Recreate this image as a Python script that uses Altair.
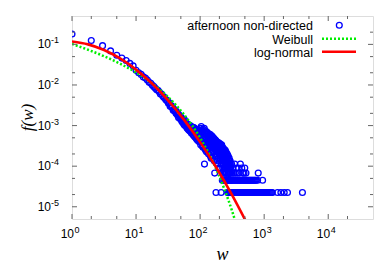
import altair as alt
import pandas as pd

TOTAL = 44400  # normalisation: one event -> f = 1/TOTAL

# ---- data ----
# w = 1..99, f(w)
w_low = list(range(1, 100))
f_low = [0.18, 0.125, 0.093, 0.069, 0.054, 0.046, 0.040, 0.034, 0.0295,
         0.0229, 0.0200, 0.0182, 0.0158, 0.0148, 0.0132, 0.0117, 0.0110, 0.0098, 0.0091,
         0.0083, 0.0076, 0.0074, 0.0068, 0.0060, 0.0060, 0.0054, 0.0050, 0.0049, 0.0044,
         0.0042, 0.0040, 0.00355, 0.00363, 0.0030, 0.00316, 0.00282, 0.00295, 0.0024, 0.00251,
         0.00229, 0.0024, 0.0020, 0.00219, 0.00186, 0.0020, 0.00158, 0.00182, 0.00151, 0.00166,
         0.00141, 0.00158, 0.00126, 0.00145, 0.00117, 0.00132, 0.00107, 0.00138, 0.0010, 0.00117,
         1.0e-3, 1.15e-3, 8.9e-4, 1.08e-3, 8.3e-4, 1.0e-3, 7.9e-4, 1.05e-3, 7.6e-4, 9.5e-4,
         7.2e-4, 9.8e-4, 8.2e-4, 6.6e-4, 9.2e-4, 7.2e-4, 8.6e-4, 6.0e-4, 9.0e-4, 6.8e-4,
         5.6e-4, 8.8e-4, 7.0e-4, 5.2e-4, 8.2e-4, 6.2e-4, 7.6e-4, 4.8e-4, 8.0e-4, 5.8e-4,
         4.5e-4, 7.6e-4, 6.2e-4, 4.2e-4, 8.0e-4, 5.4e-4, 7.0e-4, 4.0e-4, 7.8e-4, 5.2e-4]

# w = 100..299, counts
w_mid = list(range(100, 300))
counts_mid = [20, 38, 15, 28, 42, 17, 25, 34, 14, 31,
              27, 13, 36, 21, 16, 30, 38, 5, 24, 12,
              22, 33, 11, 27, 17, 31, 10, 20, 29, 14,
              30, 12, 24, 18, 28, 9, 21, 26, 15, 19,
              11, 25, 16, 27, 8, 22, 19, 13, 24, 7,
              20, 15, 25, 10, 22, 17, 7, 23, 13, 18,
              10, 21, 16, 22, 12, 18, 6, 20, 14, 3,
              17, 20, 11, 18, 8, 15, 19, 1, 10, 16,
              13, 18, 9, 16, 6, 17, 12, 14, 5, 15,
              11, 16, 7, 17, 10, 13, 4, 15, 9, 12,
              14, 8, 12, 16, 4, 10, 13, 6, 9, 15,
              7, 11, 14, 1, 9, 12, 5, 15, 8, 10,
              6, 12, 2, 9, 13, 4, 8, 11, 3, 7,
              10, 5, 12, 2, 8, 11, 4, 6, 9, 3,
              7, 10, 4, 2, 8, 5, 11, 3, 6, 9,
              2, 7, 4, 10, 5, 3, 8, 2, 6, 4,
              7, 3, 5, 2, 9, 4, 6, 2, 5, 8,
              1, 5, 3, 8, 2, 4, 6, 1, 3, 2,
              5, 2, 4, 1, 7, 3, 2, 5, 1, 6,
              2, 4, 1, 3, 6, 2, 1, 5, 2, 3]

# tail: weights seen once
tail1_w = [300, 311, 322, 334, 346, 359, 372, 385, 399, 414, 429, 444, 460, 477, 494,
           512, 531, 550, 570, 591, 612, 634, 657, 681, 706, 732, 758, 786, 814, 844,
           874, 906, 939, 973, 1008, 1045, 1083, 1122, 1163, 1205, 1249, 1294, 1341,
           1617, 1824, 2055, 2312, 3956]
# tail: weights seen twice
tail2_w = [305, 316, 328, 340, 352, 365, 378, 392, 406, 421, 436, 452, 469, 486, 503,
           522, 541, 560, 580, 601, 623, 646, 670, 694, 719, 745, 790, 945]
# tail: a few weights seen 3-5 times
extra_w = [310, 318, 326, 335, 347, 356, 368, 381, 395, 410, 425, 447, 462, 485, 498, 520, 808]
extra_c = [5, 3, 4, 3, 5, 3, 4, 3, 4, 3, 5, 4, 3, 3, 4, 3, 3]

# fitted curves
weib_w = [1, 1.778, 3.162, 5.623, 10, 17.78, 31.62, 56.23, 100, 177.8, 316.2, 398.1]
weib_f = [0.1023, 0.0738, 0.0512, 0.0335, 0.0203, 0.01096, 0.00505, 0.00186,
          5.0e-4, 8.57e-5, 7.8e-6, 2.4e-6]
logn_w = [1, 1.778, 3.162, 5.623, 10, 17.78, 31.62, 56.23, 100, 177.8, 316.2, 562.3]
logn_f = [0.1175, 0.100, 0.0726, 0.0451, 0.0239, 0.01084, 0.00419, 0.001384,
          3.91e-4, 9.42e-5, 1.94e-5, 3.42e-6]

# axis ticks
x_major = [1, 10, 100, 1000, 10000]
x_exp = ["0", "1", "2", "3", "4"]
x_minor = [2, 5, 20, 50, 200, 500, 2000, 5000, 20000]
y_major = [0.1, 0.01, 0.001, 0.0001, 0.00001]
y_exp = ["-1", "-2", "-3", "-4", "-5"]
y_minor = [0.2, 0.05, 0.02, 0.005, 0.002, 0.0005, 0.0002, 0.00005, 0.00002]

# ---- chart ----
W, H = 301, 203
BLUE, GREEN, RED, FRAME = "#0000ff", "#00ee00", "#ff0000", "#666666"
SANS, SERIF = "Liberation Sans", "Liberation Serif"
xs = alt.Scale(type="log", domain=[1, 50000], nice=False)
ys = alt.Scale(type="log", domain=[5e-6, 0.5], nice=False)

rows_w = w_low + w_mid + tail1_w + tail2_w + extra_w
rows_f = (f_low + [c / TOTAL for c in counts_mid] + [1 / TOTAL] * len(tail1_w)
          + [2 / TOTAL] * len(tail2_w) + [c / TOTAL for c in extra_c])
pts = pd.DataFrame({"w": rows_w, "f": rows_f})

X = alt.X("w:Q", scale=xs, axis=None)
Y = alt.Y("f:Q", scale=ys, axis=None)

points = alt.Chart(pts).mark_point(shape="circle", filled=False, size=34, strokeWidth=1.3,
                                   color=BLUE, opacity=1, clip=True).encode(x=X, y=Y)
weib = alt.Chart(pd.DataFrame({"w": weib_w, "f": weib_f})).mark_line(
    color=GREEN, strokeWidth=2.5, strokeDash=[2, 2], interpolate="monotone", clip=True
).encode(x=X, y=Y)
logn = alt.Chart(pd.DataFrame({"w": logn_w, "f": logn_f})).mark_line(
    color=RED, strokeWidth=2.6, interpolate="monotone", clip=True
).encode(x=X, y=Y)

def yticks(vals, length):
    d = pd.DataFrame({"v": vals})
    yy = alt.Y("v:Q", scale=ys, axis=None)
    a = alt.Chart(d).mark_rule(color=FRAME, strokeWidth=1).encode(y=yy, x=alt.value(0), x2=alt.value(length))
    b = alt.Chart(d).mark_rule(color=FRAME, strokeWidth=1).encode(y=yy, x=alt.value(W - length), x2=alt.value(W))
    return [a, b]

def xticks(vals, length):
    d = pd.DataFrame({"v": vals})
    xx = alt.X("v:Q", scale=xs, axis=None)
    a = alt.Chart(d).mark_rule(color=FRAME, strokeWidth=1).encode(x=xx, y=alt.value(H), y2=alt.value(H - length))
    b = alt.Chart(d).mark_rule(color=FRAME, strokeWidth=1).encode(x=xx, y=alt.value(0), y2=alt.value(length))
    return [a, b]

tick_layers = yticks(y_major, 5) + yticks(y_minor, 3) + xticks(x_major, 5) + xticks(x_minor, 3)

xl = pd.DataFrame({"v": x_major, "e": x_exp})
xX = alt.X("v:Q", scale=xs, axis=None)
xlab = alt.Chart(xl).mark_text(align="right", baseline="middle", fontSize=12, font=SANS, dx=2, color="black").encode(
    x=xX, y=alt.value(H + 15), text=alt.value("10"))
xsup = alt.Chart(xl).mark_text(align="left", baseline="middle", fontSize=9, font=SANS, dx=2.5, color="black").encode(
    x=xX, y=alt.value(H + 11), text="e:N")

yl = pd.DataFrame({"v": y_major, "e": y_exp})
yY = alt.Y("v:Q", scale=ys, axis=None)
ylab = alt.Chart(yl).mark_text(align="right", baseline="middle", fontSize=12, font=SANS, color="black").encode(
    y=yY, x=alt.value(-21), text=alt.value("10"))
ysup = alt.Chart(yl).mark_text(align="left", baseline="middle", fontSize=9, font=SANS, dy=-4, color="black").encode(
    y=yY, x=alt.value(-21), text="e:N")

one = pd.DataFrame({"k": [0]})
ytitle = alt.Chart(one).mark_text(angle=270, font=SERIF, fontStyle="italic", fontSize=17, color="black").encode(
    x=alt.value(-44), y=alt.value(H / 2), text=alt.value("f(w)"))
xtitle = alt.Chart(one).mark_text(font=SERIF, fontStyle="italic", fontSize=18, color="black").encode(
    x=alt.value(W / 2), y=alt.value(H + 36), text=alt.value("w"))

def leg_text(label, yb):
    return alt.Chart(one).mark_text(align="right", baseline="alphabetic", fontSize=12.5, font=SANS, color="black").encode(
        x=alt.value(241), y=alt.value(yb), text=alt.value(label))

legend = [
    leg_text("afternoon non-directed", 14.3),
    leg_text("Weibull", 27.5),
    leg_text("log-normal", 40.5),
    alt.Chart(one).mark_point(shape="circle", filled=False, size=34, strokeWidth=1.3, color=BLUE, opacity=1).encode(
        x=alt.value(267.3), y=alt.value(9.3)),
    alt.Chart(one).mark_rule(color=GREEN, strokeWidth=2.5, strokeDash=[2, 2]).encode(
        x=alt.value(250), x2=alt.value(284), y=alt.value(22.7)),
    alt.Chart(one).mark_rule(color=RED, strokeWidth=2.6).encode(
        x=alt.value(250), x2=alt.value(284), y=alt.value(35.7)),
]

chart = alt.layer(points, weib, logn, *tick_layers, xlab, xsup, ylab, ysup, ytitle, xtitle, *legend).properties(
    width=W, height=H,
    autosize=alt.AutoSizeParams(type="none"),
    padding={"left": 64, "top": 8, "right": 11, "bottom": 47},
).configure_view(stroke=FRAME, strokeWidth=1).configure(background="white")

chart.save("out.html", embed_options={"renderer": "svg", "actions": False})
